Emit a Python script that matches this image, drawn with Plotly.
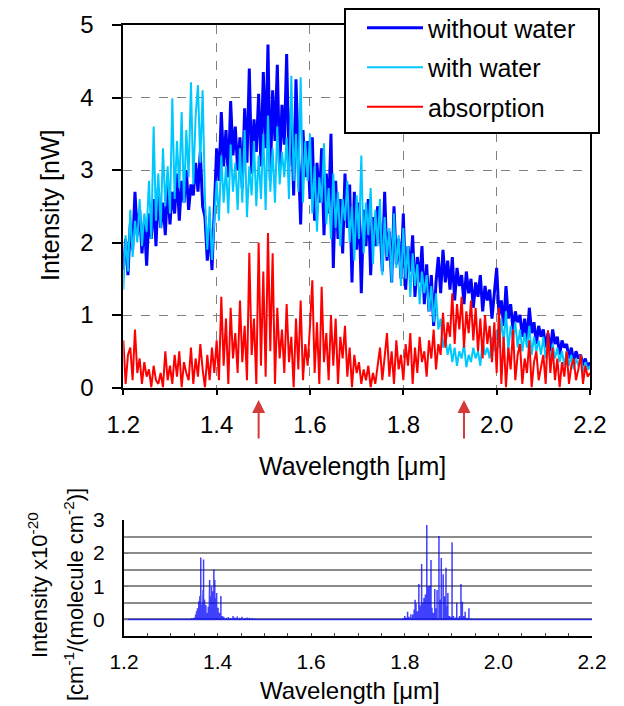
import numpy as np
import plotly.graph_objects as go

# spectrometer samples every 5 nm from 1.2 to 2.2 um
wavelength = np.round(np.linspace(1.2, 2.2, 201), 3)

without_water = [
    1.62, 2.05, 1.55, 2.25, 1.90, 2.70, 2.10, 2.45, 1.85, 2.30,
    1.68, 2.40, 2.05, 2.60, 1.95, 2.75, 2.20, 2.55, 2.10, 2.80,
    2.25, 2.70, 2.40, 2.95, 2.30, 2.85, 2.55, 3.00, 2.45, 2.80,
    2.65, 3.10, 2.70, 3.25, 2.50, 2.35, 1.75, 2.20, 1.62, 2.45,
    3.30, 2.85, 3.80, 3.05, 3.55, 2.90, 3.95, 3.20, 3.60, 3.00,
    3.45, 2.75, 3.85, 3.10, 4.40, 2.95, 3.70, 3.25, 4.05, 3.05,
    4.35, 3.30, 4.73, 2.85, 4.10, 3.40, 4.45, 3.00, 3.90, 3.35,
    4.60, 3.05, 3.85, 2.65, 4.25, 3.20, 2.25, 3.55, 2.90, 3.40,
    2.60, 3.45, 2.30, 3.10, 2.55, 3.30, 2.10, 2.95, 2.40, 3.50,
    1.65, 2.85, 2.05, 2.60, 1.85, 2.95, 2.20, 2.80, 1.45, 2.70,
    1.90, 2.55, 1.30, 2.45, 1.95, 2.60, 1.55, 2.35, 1.95, 2.50,
    2.25, 1.60, 2.70, 1.75, 2.15, 1.45, 2.50, 1.70, 2.05, 1.50,
    2.40, 1.35, 1.95, 1.60, 2.10, 1.25, 1.80, 1.45, 1.95, 1.15,
    1.70, 1.05, 1.55, 0.85, 1.45, 1.80, 1.30, 1.90, 1.45, 1.75,
    1.35, 1.80, 1.20, 1.65, 1.40, 1.55, 1.15, 1.60, 1.30, 1.50,
    1.10, 1.45, 1.25, 1.55, 1.05, 1.40, 1.20, 1.35, 0.95, 1.30,
    1.65, 1.00, 1.20, 0.85, 1.40, 0.95, 1.15, 0.80, 1.05, 0.90,
    1.00, 0.70, 0.95, 0.65, 1.10, 0.75, 0.90, 0.60, 0.85, 0.70,
    0.80, 0.55, 0.75, 0.50, 0.80, 0.60, 0.70, 0.45, 0.65, 0.55,
    0.60, 0.40, 0.55, 0.35, 0.50, 0.40, 0.45, 0.30, 0.40, 0.25, 0.35,
]

with_water = [
    1.35, 2.10, 1.60, 2.45, 1.80, 2.30, 2.00, 2.60, 1.95, 2.40,
    2.15, 2.85, 2.05, 3.60, 2.30, 2.95, 2.20, 3.30, 2.50, 3.05,
    2.40, 3.99, 2.60, 3.40, 2.75, 3.80, 2.55, 3.55, 2.90, 4.21,
    2.80, 3.75, 4.17, 3.10, 4.10, 2.60, 1.90, 2.50, 1.76, 2.30,
    2.85, 2.30, 3.20, 2.55, 3.05, 2.40, 3.35, 2.70, 3.10, 2.45,
    3.30, 2.55, 3.55, 2.35, 3.05, 2.65, 3.40, 2.50, 3.20, 2.60,
    3.50, 2.45, 3.75, 2.70, 3.30, 2.55, 3.60, 2.80, 3.25, 2.90,
    3.45, 2.60, 4.30, 2.85, 3.50, 2.70, 4.28, 2.55, 3.40, 2.85,
    3.50, 2.40, 3.05, 2.15, 2.90, 2.55, 3.37, 2.25, 2.75, 2.05,
    2.95, 2.20, 2.70, 1.95, 2.60, 2.30, 2.85, 2.00, 2.50, 1.75,
    2.65, 2.05, 3.20, 1.85, 2.55, 2.10, 2.75, 1.70, 2.45, 1.95,
    2.60, 1.55, 2.35, 1.80, 2.20, 1.45, 2.40, 1.65, 2.10, 1.40,
    2.20, 1.50, 1.95, 1.25, 1.85, 1.40, 1.70, 1.15, 1.60, 1.30,
    1.55, 1.05, 1.40, 0.90, 1.30, 0.80, 0.95, 0.55, 0.70, 0.45,
    0.60, 0.35, 0.55, 0.30, 0.50, 0.40, 0.60, 0.28, 0.45, 0.35,
    0.55, 0.40, 0.50, 0.30, 0.65, 0.45, 0.55, 0.40, 0.70, 0.50,
    0.80, 0.55, 0.95, 0.60, 1.05, 0.50, 0.85, 0.65, 0.90, 0.55,
    0.80, 0.50, 0.75, 0.55, 0.85, 0.45, 0.70, 0.50, 0.65, 0.45,
    0.70, 0.40, 0.65, 0.35, 0.60, 0.40, 0.55, 0.35, 0.50, 0.30,
    0.50, 0.30, 0.45, 0.25, 0.40, 0.30, 0.45, 0.20, 0.35, 0.25, 0.30,
]

absorption = [
    0.65, 0.05, 0.45, 0.55, 0.10, 0.80, 0.20, 0.40, 0.05, 0.35,
    0.15, 0.25, 0.00, 0.30, 0.10, 0.05, 0.20, 0.00, 0.50, 0.10,
    0.30, 0.05, 0.45, 0.15, 0.50, 0.00, 0.35, 0.20, 0.10, 0.55,
    0.05, 0.40, 0.15, 0.60, 0.25, 0.00, 0.45, 0.10, 0.55, 0.20,
    0.65, 0.10, 1.25, 0.30, 0.95, 0.05, 1.10, 0.40, 0.75, 0.20,
    1.20, 0.35, 0.85, 0.10, 1.86, 0.45, 0.95, 0.05, 2.00, 0.30,
    1.60, 0.15, 2.13, 0.50, 1.85, 0.05, 1.10, 0.40, 0.80, 0.20,
    1.15, 0.35, 0.70, 0.00, 0.95, 0.25, 1.20, 0.10, 0.60, 0.30,
    0.85, 1.48, 0.20, 0.90, 0.05, 1.39, 0.35, 0.75, 0.10, 1.00,
    0.30, 0.95, 0.05, 0.70, 0.40, 0.85, 0.15, 0.55, 0.00, 0.45,
    0.20, 0.35, 0.05, 0.25, 0.10, 0.30, 0.00, 0.20, 0.05, 0.30,
    0.55, 0.10, 0.40, 0.75, 0.15, 0.50, 0.05, 0.65, 0.25, 0.45,
    0.10, 0.60, 0.30, 0.75, 0.05, 0.55, 0.20, 0.70, 0.35, 0.50,
    0.15, 0.65, 0.40, 0.80, 0.25, 0.60, 0.45, 1.03, 0.55, 0.90,
    0.70, 1.30, 0.60, 1.15, 0.80, 1.25, 0.55, 1.05, 0.75, 1.20,
    0.65, 1.10, 0.50, 0.95, 0.40, 1.00, 0.60, 0.85, 0.35, 0.90,
    0.20, 1.10, 0.05, 0.70, 0.00, 0.55, 0.25, 0.80, 0.10, 0.45,
    0.60, 0.05, 0.40, 0.20, 0.65, 0.00, 0.35, 0.50, 0.10, 0.30,
    0.45, 0.05, 0.79, 0.20, 0.55, 0.10, 0.40, 0.00, 0.35, 0.15,
    0.50, 0.05, 0.30, 0.40, 0.10, 0.25, 0.45, 0.05, 0.30, 0.15, 0.20,
]

# water line list (stick spectrum), intensity x1e-20
line_wl = [
    1.200, 1.345, 1.350, 1.353, 1.355, 1.357, 1.359, 1.360, 1.362, 1.364,
    1.366, 1.368, 1.369, 1.370, 1.372, 1.373, 1.375, 1.377, 1.380, 1.382,
    1.383, 1.385, 1.387, 1.389, 1.390, 1.392, 1.394, 1.396, 1.398, 1.400,
    1.401, 1.404, 1.407, 1.410, 1.413, 1.418, 1.423, 1.428, 1.433, 1.437,
    1.442, 1.447, 1.452, 1.458, 1.463, 1.468, 1.474, 1.480,
    1.790, 1.797, 1.800, 1.803, 1.806, 1.809, 1.813, 1.815, 1.817, 1.820,
    1.822, 1.824, 1.827, 1.830, 1.832, 1.834, 1.836, 1.838, 1.841, 1.844,
    1.847, 1.850, 1.853, 1.856, 1.858, 1.861, 1.864, 1.866, 1.869, 1.873,
    1.876, 1.878, 1.882, 1.885, 1.888, 1.890, 1.892, 1.895, 1.898, 1.901,
    1.904, 1.908, 1.911, 1.914, 1.917, 1.920, 1.923, 1.926, 1.929, 1.933,
    1.937, 1.942, 1.950, 1.956, 2.200,
]
line_intensity = [
    0.00, 0.04, 0.06, 0.15, 0.25, 0.34, 0.20, 0.55, 0.70, 1.87,
    0.45, 0.30, 0.89, 1.81, 0.60, 0.35, 0.43, 0.20, 0.38, 0.55,
    1.19, 0.70, 0.99, 0.50, 0.85, 1.51, 1.19, 0.65, 0.80, 0.30,
    0.35, 0.20, 0.71, 0.10, 0.08, 0.05, 0.07, 0.04, 0.10, 0.06,
    0.09, 0.05, 0.08, 0.04, 0.06, 0.05, 0.04, 0.03,
    0.02, 0.04, 0.10, 0.05, 0.23, 0.08, 0.16, 0.06, 0.15, 0.30,
    0.59, 0.47, 0.25, 1.07, 0.45, 0.40, 1.67, 0.50, 0.65, 0.75,
    2.85, 0.99, 1.01, 1.79, 0.35, 0.20, 0.92, 0.34, 0.89, 2.52,
    0.60, 1.85, 1.36, 0.70, 1.56, 0.40, 0.80, 0.10, 0.08, 2.33,
    0.10, 0.06, 0.50, 0.05, 0.10, 1.07, 0.53, 0.10, 0.23, 0.05,
    0.34, 0.03, 0.02, 0.03, 0.00,
]

# bands marked with arrows under the upper plot
arrow_wl = [1.49, 1.93]

assert len(without_water) == len(with_water) == len(absorption) == len(wavelength)
assert len(line_wl) == len(line_intensity)

FONT = 'Liberation Sans, Arial, sans-serif'
W, H = 624, 706


def px_x(p):
    return p / W


def px_y(p):
    return 1 - p / H


# sticks drawn as one polyline going up and down at every line position
stick_x, stick_y = [], []
for w, s in zip(line_wl, line_intensity):
    stick_x += [w, w, w]
    stick_y += [0, s, 0]

fig = go.Figure()
fig.add_trace(go.Scatter(x=wavelength, y=without_water, mode='lines', name='without water',
                         line=dict(color='#0000ff', width=3), legendgroup='a'))
fig.add_trace(go.Scatter(x=wavelength, y=with_water, mode='lines', name='with water',
                         line=dict(color='#00c8ff', width=2), legendgroup='b'))
fig.add_trace(go.Scatter(x=wavelength, y=absorption, mode='lines', name='absorption',
                         line=dict(color='#ff0000', width=2), legendgroup='c'))
fig.add_trace(go.Scatter(x=stick_x, y=stick_y, mode='lines', showlegend=False,
                         line=dict(color='rgba(0,0,255,0.75)', width=1.5),
                         xaxis='x2', yaxis='y2'))

wl_ticks = [1.2, 1.4, 1.6, 1.8, 2.0, 2.2]
wl_text = [f'{v:.1f}' for v in wl_ticks]

fig.update_layout(
    width=W, height=H,
    margin=dict(l=0, r=0, t=0, b=0, autoexpand=False),
    paper_bgcolor='white', plot_bgcolor='white',
    font=dict(family=FONT, size=24, color='black'),
    xaxis=dict(
        domain=[px_x(123.3), px_x(590)], range=[1.2, 2.2], anchor='y',
        tickvals=wl_ticks, ticktext=wl_text, automargin=False,
        ticks='outside', ticklen=5, tickwidth=2, tickcolor='black',
        ticklabelstandoff=10,
        showline=True, linecolor='black', linewidth=2, mirror=True,
        showgrid=True, gridcolor='#808080', gridwidth=1.3, griddash='dash',
        zeroline=False, layer='below traces',
    ),
    yaxis=dict(
        domain=[px_y(387.5), px_y(25)], range=[0, 5], anchor='x',
        dtick=1, ticks='outside', ticklen=9, tickwidth=2, tickcolor='black',
        ticklabelstandoff=14, automargin=False,
        showline=True, linecolor='black', linewidth=2, mirror=True,
        showgrid=True, gridcolor='#808080', gridwidth=1.3, griddash='dash',
        zeroline=False, layer='below traces',
    ),
    xaxis2=dict(
        domain=[px_x(124), px_x(592)], range=[1.2, 2.2], anchor='y2',
        tickvals=wl_ticks, ticktext=wl_text, tickfont=dict(size=21),
        ticks='inside', ticklen=3, tickcolor='#444', automargin=False,
        minor=dict(dtick=0.05, ticks='inside', ticklen=3, tickcolor='#444'),
        ticklabelstandoff=6,
        showline=True, linecolor='black', linewidth=2,
        showgrid=False, zeroline=False,
    ),
    yaxis2=dict(
        domain=[px_y(636), px_y(520)], range=[-0.5, 3], anchor='x2',
        tickvals=[0, 1, 2, 3], tickfont=dict(size=21), automargin=False,
        ticks='inside', ticklen=4, tickcolor='#777',
        minor=dict(dtick=0.5, tick0=0, ticks='inside', ticklen=3, tickcolor='#999',
                   showgrid=True, gridcolor='#8a8a8a', gridwidth=1.5),
        ticklabelstandoff=13,
        showline=True, linecolor='black', linewidth=2,
        showgrid=True, gridcolor='#8a8a8a', gridwidth=1.5, zeroline=False,
    ),
    legend=dict(
        x=px_x(362), y=px_y(5), xanchor='left', yanchor='top',
        bgcolor='rgba(0,0,0,0)', borderwidth=0, itemwidth=56,
        font=dict(size=25), tracegroupgap=4, traceorder='grouped',
    ),
    shapes=[dict(
        type='rect', xref='paper', yref='paper', layer='above',
        x0=px_x(345), x1=px_x(599), y0=px_y(133), y1=px_y(9),
        line=dict(color='black', width=2), fillcolor='white',
    )],
)

annotations = [
    dict(text='Intensity [nW]', textangle=-90, xref='paper', yref='paper',
         x=px_x(50), y=px_y(206), xanchor='center', yanchor='middle',
         showarrow=False, font=dict(size=25)),
    dict(text='Wavelength [μm]', xref='paper', yref='paper',
         x=px_x(352), y=px_y(466), xanchor='center', yanchor='middle',
         showarrow=False, font=dict(size=25)),
    dict(text='Wavelength [μm]', xref='paper', yref='paper',
         x=px_x(350), y=px_y(690), xanchor='center', yanchor='middle',
         showarrow=False, font=dict(size=24)),
    dict(text='Intensity x10<sup>-20</sup>', textangle=-90, xref='paper', yref='paper',
         x=px_x(38), y=px_y(585), xanchor='center', yanchor='middle',
         showarrow=False, font=dict(size=22)),
    dict(text='[cm<sup>-1</sup>/(molecule cm<sup>-2</sup>)]', textangle=-90,
         xref='paper', yref='paper', x=px_x(74), y=px_y(595),
         xanchor='center', yanchor='middle', showarrow=False, font=dict(size=22)),
]
for w in arrow_wl:
    annotations.append(dict(
        text='', x=w, y=px_y(400), xref='x', yref='paper',
        showarrow=True, ax=0, ay=40, arrowhead=2, arrowsize=1.3,
        arrowwidth=2, arrowcolor='#d43a3a',
    ))
fig.update_layout(annotations=annotations)

# the page body has a default 8px margin; drop it so the figure sits at the corner
fig.write_html('out.html', config={'displayModeBar': False},
               post_script="document.body.style.margin='0';")
